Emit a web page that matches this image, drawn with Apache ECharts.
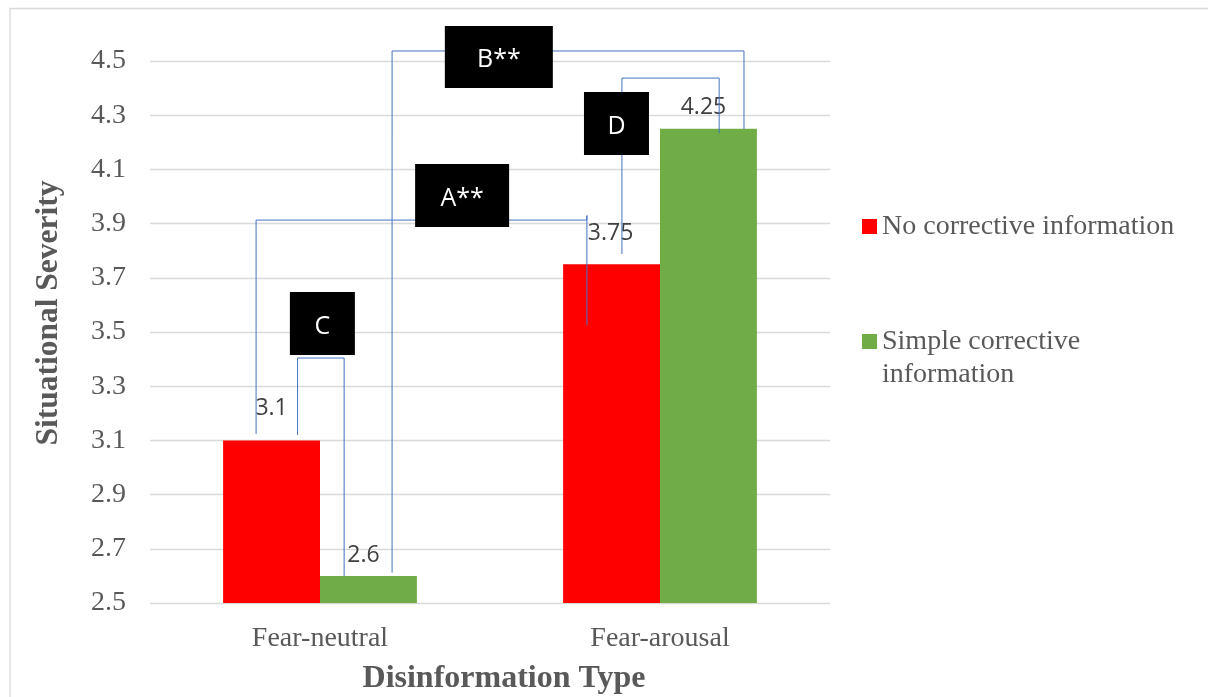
<!DOCTYPE html>
<html>
<head>
<meta charset="utf-8">
<script src="https://cdn.jsdelivr.net/npm/echarts@6/dist/echarts.min.js"></script>
<style>
  html, body { margin: 0; padding: 0; background: #ffffff; }
  #chart { width: 1208px; height: 697px; }
</style>
</head>
<body>
<div id="chart"></div>
<script>
// Categories and group means
const categories = ['Fear-neutral', 'Fear-arousal'];
const seriesNames = ['No corrective information', 'Simple corrective information'];
const noCorrective = [3.1, 3.75];
const simpleCorrective = [2.6, 4.25];

// Comparison brackets, in data space: x = category position (0, 1), y = severity
const bracketA = [[-0.188, 3.124], [-0.188, 3.913], [0.785, 3.913], [0.785, 3.93], [0.785, 3.526]];
const bracketB = [[0.212, 2.612], [0.212, 4.537], [1.247, 4.537], [1.247, 4.249]];
const bracketC = [[-0.066, 3.120], [-0.066, 3.404], [0.071, 3.404], [0.071, 2.600]];
const bracketD = [[0.888, 3.788], [0.888, 4.437], [1.174, 4.437], [1.174, 4.234]];

// Comparison tags: text and centre (category position, severity)
const tagText = ['A**', 'B**', 'C', 'D'];
const tagPos = [[0.418, 4.004], [0.526, 4.515], [0.007, 3.531], [0.872, 4.269]];
const tagSize = [[94, 63], [108, 62], [65, 63], [65, 63]];

// Value label nudges (distance above bar, horizontal shift)
const labelDist = [[20, 9], [19, 10]];
const labelShift = [[0, -5], [-1, -5]];

const SERIF = '"Liberation Serif", "Times New Roman", serif';
const SANS = '"Open Sans", "Noto Sans", sans-serif';
const TEXT_GREY = '#595959';
const BRACKET_BLUE = '#4472C4';

function barData(values, s) {
  return values.map((v, i) => ({
    value: v,
    label: { distance: labelDist[i][s], offset: [labelShift[i][s], 0] }
  }));
}

function bracketSeries(name, pts) {
  return {
    name: name,
    type: 'line',
    xAxisIndex: 1,
    yAxisIndex: 0,
    data: pts,
    symbol: 'none',
    silent: true,
    clip: false,
    z: 5,
    lineStyle: { color: BRACKET_BLUE, width: 1 }
  };
}

const chart = echarts.init(document.getElementById('chart'), null, { renderer: 'canvas' });

const option = {
  animation: false,
  backgroundColor: '#ffffff',
  grid: { left: 150, right: 378, top: 61, bottom: 94, containLabel: false },
  legend: [
    {
      data: [seriesNames[0]],
      orient: 'vertical',
      left: 862,
      top: 210,
      padding: 0,
      icon: 'rect',
      itemWidth: 15,
      itemHeight: 15,
      selectedMode: false,
      textStyle: { fontFamily: SERIF, fontSize: 28, color: TEXT_GREY, lineHeight: 33 }
    },
    {
      // wrapped entry: the swatch sits beside the first text line
      data: [seriesNames[1]],
      orient: 'vertical',
      left: 862,
      top: 292,
      padding: 0,
      icon: 'rect',
      itemWidth: 15,
      itemHeight: 15,
      selectedMode: false,
      formatter: name => '\n' + name,
      textStyle: {
        fontFamily: SERIF, fontSize: 28, color: TEXT_GREY, lineHeight: 33,
        width: 240, overflow: 'break'
      }
    }
  ],
  xAxis: [
    {
      type: 'category',
      data: categories,
      axisLine: { show: false },
      axisTick: { show: false },
      axisLabel: { margin: 22, fontFamily: SERIF, fontSize: 28, color: TEXT_GREY }
    },
    {
      type: 'value',
      min: -0.5,
      max: 1.5,
      show: false
    }
  ],
  yAxis: {
    type: 'value',
    min: 2.5,
    max: 4.5,
    interval: 0.2,
    axisLine: { show: false },
    axisTick: { show: false },
    axisLabel: {
      margin: 24,
      fontFamily: SERIF,
      fontSize: 28,
      color: TEXT_GREY,
      formatter: v => v.toFixed(1)
    },
    splitLine: { lineStyle: { color: '#d9d9d9', width: 1.3 } }
  },
  series: [
    {
      name: seriesNames[0],
      type: 'bar',
      data: barData(noCorrective, 0),
      barGap: '0%',
      barCategoryGap: '43%',
      itemStyle: { color: '#FF0000' },
      z: 2,
      label: {
        show: true, position: 'top',
        fontFamily: SANS, fontSize: 23, color: '#404040'
      }
    },
    {
      name: seriesNames[1],
      type: 'bar',
      data: barData(simpleCorrective, 1),
      itemStyle: { color: '#70AD47' },
      z: 2,
      label: {
        show: true, position: 'top',
        fontFamily: SANS, fontSize: 23, color: '#404040'
      }
    },
    bracketSeries('A', bracketA),
    bracketSeries('B', bracketB),
    bracketSeries('C', bracketC),
    bracketSeries('D', bracketD),
    {
      name: 'tags',
      type: 'scatter',
      xAxisIndex: 1,
      yAxisIndex: 0,
      silent: true,
      clip: false,
      z: 6,
      symbol: 'rect',
      data: tagText.map((t, i) => ({
        name: t,
        value: tagPos[i],
        symbolSize: tagSize[i]
      })),
      itemStyle: { color: '#000000', opacity: 1 },
      label: {
        show: true,
        position: 'inside',
        formatter: '{b}',
        fontFamily: SANS,
        fontSize: 25,
        color: '#ffffff',
        offset: [0, 3]
      }
    }
  ],
  graphic: [
    {
      type: 'rect',
      silent: true,
      shape: { x: 10, y: 8.5, width: 1400, height: 900 },
      style: { fill: 'none', stroke: '#d9d9d9', lineWidth: 1.3 },
      z: -10
    },
    {
      type: 'text',
      silent: true,
      x: 49,
      y: 313,
      rotation: Math.PI / 2,
      style: {
        text: 'Situational Severity',
        fontFamily: SERIF, fontWeight: 'bold', fontSize: 31.5,
        fill: TEXT_GREY, align: 'center', verticalAlign: 'middle'
      }
    },
    {
      type: 'text',
      silent: true,
      x: 504,
      y: 679,
      style: {
        text: 'Disinformation Type',
        fontFamily: SERIF, fontWeight: 'bold', fontSize: 32,
        fill: TEXT_GREY, align: 'center', verticalAlign: 'middle'
      }
    }
  ]
};

chart.setOption(option);
</script>
</body>
</html>
